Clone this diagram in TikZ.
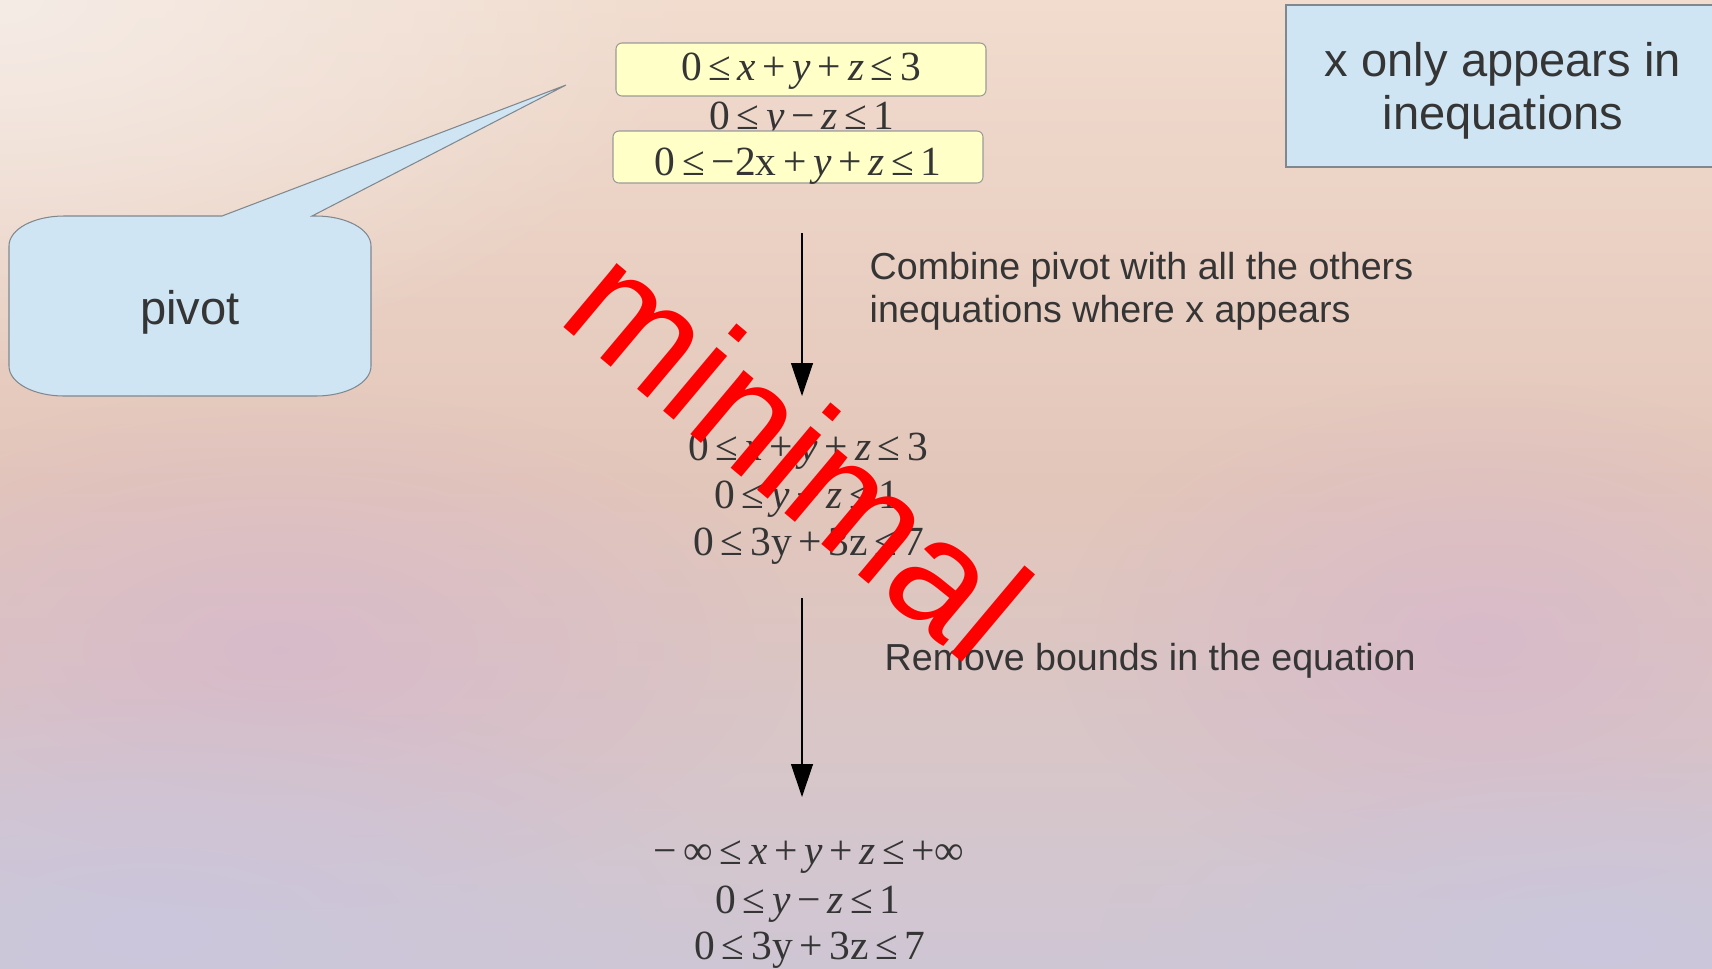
\documentclass[tikz,border=0pt]{standalone}
\usepackage{fontspec}
\setmainfont{Liberation Sans}
\newfontfamily\eqfont{Liberation Serif}
\usetikzlibrary{positioning}
\usetikzlibrary{arrows.meta}
\usetikzlibrary{fadings}
\definecolor{bgtop}{HTML}{F1DCCE}
\definecolor{bgmid}{HTML}{E3C6BA}
\definecolor{bgbot}{HTML}{CFC6D4}
\definecolor{bglight}{HTML}{F5ECE6}
\definecolor{bgpurple}{HTML}{D6B6CC}
\definecolor{bglav}{HTML}{CBC6DC}
\definecolor{ink}{HTML}{353535}
\definecolor{eqfill}{HTML}{FFFFC8}
\definecolor{boxline}{HTML}{9A9A9A}
\definecolor{notefill}{HTML}{CFE5F3}
\definecolor{noteline}{HTML}{80888F}
\tikzfading[name=blob, inner color=transparent!0, outer color=transparent!100]
\newcommand{\eqop}[1]{\hskip.16em#1\hskip.16em}

\begin{document}
\begin{tikzpicture}[x=0.1mm, y=-0.1mm,
		eq/.style={font=\eqfont\fontsize{11.8}{14}\selectfont, text=ink, anchor=base, inner sep=0pt},
		eqbox/.style={eq, draw=boxline, fill=eqfill, rounded corners=0.6mm, line width=0.3pt, minimum width=37mm},
		note/.style={font=\fontsize{10.7}{12.2}\selectfont, text=ink, anchor=base west, inner sep=0pt},
		big/.style={font=\fontsize{13.4}{15}\selectfont, text=ink},
		arr/.style={-{Triangle[length=3.3mm, width=2.2mm]}, line width=0.35pt},
		stamp/.style={font=\fontsize{44.8}{50}\selectfont, text=red, rotate=-40, anchor=base, inner sep=0pt}
	]
	\useasboundingbox (0,0) rectangle (1712,968);
	\clip (0,0) rectangle (1712,968);
	\shade[top color=bgtop, bottom color=bgbot, middle color=bgmid] (0,0) rectangle (1712,968);
	\fill[bglight, path fading=blob] (0,0) ellipse [x radius=700, y radius=380];
	\fill[bgpurple, path fading=blob, fill opacity=.7] (280,650) ellipse [x radius=520, y radius=260];
	\fill[bgpurple, path fading=blob, fill opacity=.7] (1480,640) ellipse [x radius=420, y radius=260];
	\fill[bglav, path fading=blob] (150,930) ellipse [x radius=600, y radius=250];
	\fill[bglav, path fading=blob] (1600,940) ellipse [x radius=500, y radius=200];

	\node[eqbox, text height=3.7mm, text depth=1.6mm] (t1) at (801,80) {0\eqop{≤}\textit{x}\eqop{+}\textit{y}\eqop{+}\textit{z}\eqop{≤}3};
	\node[eq] (t2) at (802,129) {0\eqop{≤}\textit{y}\eqop{−}\textit{z}\eqop{≤}1};
	\node[eqbox, text height=4.4mm, text depth=0.8mm] (t3) at (798,175) {0\eqop{≤}−2x\eqop{+}\textit{y}\eqop{+}\textit{z}\eqop{≤}1};

	\node[eq] (m1) at (808,460) {0\eqop{≤}\textit{x}\eqop{+}\textit{y}\eqop{+}\textit{z}\eqop{≤}3};
	\node[eq] (m2) at (807,508) {0\eqop{≤}\textit{y}\eqop{−}\textit{z}\eqop{≤}1};
	\node[eq] (m3) at (809,555) {0\eqop{≤}3y\eqop{+}3z\eqop{≤}7};

	\node[eq] (b1) at (809,864) {−\hskip.16em∞\eqop{≤}\textit{x}\eqop{+}\textit{y}\eqop{+}\textit{z}\eqop{≤}+∞};
	\node[eq] (b2) at (808,913) {0\eqop{≤}\textit{y}\eqop{−}\textit{z}\eqop{≤}1};
	\node[eq] (b3) at (810,959) {0\eqop{≤}3y\eqop{+}3z\eqop{≤}7};

	\coordinate (a1) at (802,233);
	\coordinate (a2) at (802,396);
	\coordinate (a3) at (802,598);
	\coordinate (a4) at (802,797);
	\draw[arr] (a1) -- (a2);
	\draw[arr] (a3) -- (a4);

	\node[note] (c1) at (869,279) {Combine pivot with all the others};
	\node[note] (c2) at (869,322) {inequations where x appears};
	\node[note] (c3) at (884,670) {Remove bounds in the equation};

	\node[draw=noteline, fill=notefill, line width=0.3pt, minimum width=43.4mm, minimum height=16.2mm] (xbox) at (1503,86) {};
	\node[big, align=center] (xonly) at ([yshift=-0.45mm]xbox.center) {x only appears in\\inequations};

	\draw[draw=noteline, fill=notefill, line width=0.3pt] (64,216) -- (222,216) -- (566,85) -- (312,216) -- (316,216)
		.. controls (346,216) and (371,229) .. (371,246) -- (371,366)
		.. controls (371,383) and (346,396) .. (316,396) -- (64,396)
		.. controls (34,396) and (9,383) .. (9,366) -- (9,246)
		.. controls (9,229) and (34,216) .. (64,216) -- cycle;
	\node[big] (pv) at (190,312) {pivot};

	\node[stamp] (wm) at (763,495) {minimal};
\end{tikzpicture}
\end{document}
